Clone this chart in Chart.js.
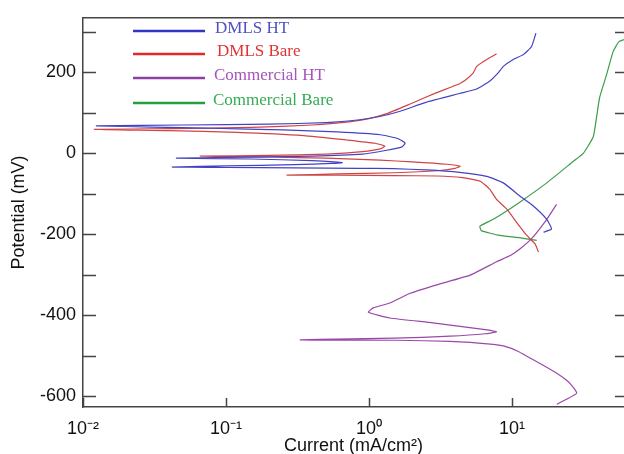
<!DOCTYPE html>
<html>
<head>
<meta charset="utf-8">
<script src="https://cdn.jsdelivr.net/npm/chart.js"></script>
<style>
  html, body { margin: 0; padding: 0; background: #fff; overflow: hidden; }
  canvas { display: block; }
</style>
</head>
<body>
<canvas id="chart" width="624" height="454"></canvas>
<script>
// polarisation curves, current in mA/cm², potential in mV (scan order)
const seriesNames = ['DMLS HT', 'DMLS Bare', 'Commercial HT', 'Commercial Bare'];

const dmlsHtI = [16.6, 18.9, 17.5, 14.1, 11.4, 8.7, 6.65, 4.3, 2.53, 1.48, 0.86, 0.3, 0.1, 0.042,
  0.1, 0.3, 0.55, 0.65, 0.4, 0.15, 0.045, 0.1, 0.4, 0.9, 1.3, 1.7, 1.79,
  1.6, 1.2, 0.6, 0.25, 0.08, 0.03, 0.0124, 0.05, 0.2, 0.5, 0.86, 1.19, 1.65, 2.5, 4.3, 5.65,
  7.0, 8.0, 8.7, 10.2, 12.0, 13.7, 14.7];
const dmlsHtE = [-195, -187, -163, -130, -106, -73, -57, -47, -41, -38, -37, -36, -35, -34,
  -31, -28, -25, -23, -18, -14, -12, -10, -7, -2, 7, 16, 25,
  36, 46, 53, 58, 62, 65, 68, 70, 72, 76, 83, 91, 104, 126, 148, 159,
  179, 199, 215, 232, 244, 264, 297];

const dmlsBareI = [15.3, 14.5, 12.7, 10.8, 9.2, 7.8, 7.0, 6.0, 4.5, 3.0, 1.5, 0.6, 0.265,
  0.6, 1.5, 3.0, 4.0, 4.33, 3.5, 2.0, 1.2, 0.5, 0.2, 0.066, 0.2, 0.5, 0.9, 1.2, 1.29,
  1.1, 0.7, 0.35, 0.12, 0.04, 0.012, 0.04, 0.15, 0.4, 0.7, 1.0, 1.33, 1.94, 2.97, 4.3,
  4.8, 5.36, 5.66, 6.65, 7.8];
const dmlsBareE = [-244, -224, -203, -171, -138, -114, -89, -69, -60, -56, -55, -54, -54,
  -51, -48, -43, -37, -32, -27, -21, -17, -12, -9, -7, -5, -2, 4, 11, 18,
  25, 33, 44, 52, 56, 59, 61, 64, 70, 77, 86, 98, 122, 150, 172,
  183, 199, 215, 232, 246];

const commHtI = [20.6, 28.3, 25.5, 21.7, 16.5, 10.8, 8.7, 7.4, 3.7, 1.56, 0.53, 0.33,
  0.6, 1.5, 3.7, 6.5, 7.8, 6.3, 2.8, 1.4, 0.99, 1.07, 1.4, 1.94, 2.97, 5.1, 7.8, 9.8,
  11.4, 13.7, 17.5, 20.5];
const commHtE = [-620, -593, -569, -549, -524, -488, -476, -472, -465, -462, -462, -461,
  -459, -457, -452, -446, -441, -435, -419, -407, -393, -382, -370, -346, -325, -301, -268, -252,
  -236, -211, -163, -126];

const commBareI = [14.9, 12.0, 8.2, 6.1, 5.97, 7.4, 11.4, 17.5, 26.8, 31.5, 37, 39, 41, 45.9,
  51, 56, 62, 66];
const commBareE = [-215, -210, -203, -191, -180, -163, -120, -73, -20, 0, 41, 89, 138, 195,
  252, 276, 282, 285];

const xTicks = [0.01, 0.1, 1, 10];
const xTickLabels = ['10⁻²', '10⁻¹', '10⁰', '10¹'];
const yTicks = [-600, -500, -400, -300, -200, -100, 0, 100, 200, 300];

const lineColors = ['#4343c2', '#cf4545', '#9a48a8', '#3c9c4c'];
const legendLineColors = ['#3434c4', '#e02a2a', '#9040a4', '#22a040'];
const legendTextColors = ['#5050c4', '#e03434', '#a652bc', '#34ac54'];

function pairs(xs, ys) {
  return xs.map((x, i) => ({ x: x, y: ys[i] }));
}

Chart.defaults.font.family = "'Liberation Sans', Arial, sans-serif";
Chart.defaults.font.size = 18;
Chart.defaults.color = '#111';

// box round the plot with inward ticks
const framePlugin = {
  id: 'frame',
  afterDraw(chart) {
    const ctx = chart.ctx;
    const a = chart.chartArea;
    const xs = chart.scales.x, ys = chart.scales.y;
    ctx.save();
    ctx.strokeStyle = '#444';
    ctx.lineWidth = 1.5;
    ctx.beginPath();
    ctx.moveTo(a.left, a.top);
    ctx.lineTo(a.right, a.top);
    yTicks.forEach(v => {
      const py = Math.round(ys.getPixelForValue(v)) + 0.5;
      ctx.moveTo(a.left, py);
      ctx.lineTo(a.left + 13, py);
      ctx.moveTo(a.right - 9, py);
      ctx.lineTo(a.right, py);
    });
    xTicks.forEach(v => {
      const px = Math.round(xs.getPixelForValue(v)) + 0.5;
      ctx.moveTo(px, a.bottom);
      ctx.lineTo(px, a.bottom - 9);
    });
    ctx.stroke();
    ctx.restore();
  }
};

// legend drawn inside the plot, top left
const legendPlugin = {
  id: 'insideLegend',
  afterDraw(chart) {
    const ctx = chart.ctx;
    const rows = [31, 54, 78, 103];
    const textX = [215, 217, 214, 213];
    ctx.save();
    ctx.font = "17px 'Liberation Serif', 'Times New Roman', serif";
    ctx.textBaseline = 'middle';
    chart.data.datasets.forEach((ds, i) => {
      ctx.strokeStyle = legendLineColors[i];
      ctx.lineWidth = 2.4;
      ctx.beginPath();
      ctx.moveTo(133, rows[i]);
      ctx.lineTo(205, rows[i]);
      ctx.stroke();
      ctx.fillStyle = legendTextColors[i];
      ctx.fillText(ds.label, textX[i], rows[i] - 2);
    });
    ctx.restore();
  }
};

const series = [
  pairs(dmlsHtI, dmlsHtE),
  pairs(dmlsBareI, dmlsBareE),
  pairs(commHtI, commHtE),
  pairs(commBareI, commBareE)
];

const ctx = document.getElementById('chart');

new Chart(ctx, {
  type: 'scatter',
  data: {
    datasets: series.map((d, i) => ({
      label: seriesNames[i],
      data: d,
      showLine: true,
      borderColor: lineColors[i],
      backgroundColor: lineColors[i],
      borderWidth: 1.2,
      pointRadius: 0,
      tension: 0.15
    }))
  },
  options: {
    responsive: false,
    animation: false,
    devicePixelRatio: 1,
    layout: {
      padding: { top: 13, left: 0, right: 0, bottom: 0 }
    },
    scales: {
      x: {
        type: 'logarithmic',
        min: 0.01,
        max: 60.7,
        afterBuildTicks: s => { s.ticks = xTicks.map(v => ({ value: v })); },
        afterFit: s => { s.height = 47; },
        grid: { display: false, drawTicks: false },
        border: { display: true, color: '#444', width: 1.5 },
        ticks: {
          padding: 11,
          maxRotation: 0,
          autoSkip: false,
          color: '#111',
          callback: (v, i) => xTickLabels[i]
        },
        title: {
          display: true,
          text: 'Current (mA/cm²)',
          color: '#111',
          padding: { top: 0, bottom: -3 }
        }
      },
      y: {
        min: -627,
        max: 335,
        afterBuildTicks: s => { s.ticks = yTicks.map(v => ({ value: v })); },
        afterFit: s => { s.width = 83; },
        grid: { display: false, drawTicks: false },
        border: { display: true, color: '#444', width: 1.5 },
        ticks: {
          padding: 7,
          autoSkip: false,
          color: '#111',
          callback: v => (v % 200 === 0 ? String(v) : '')
        },
        title: {
          display: true,
          text: 'Potential (mV)',
          color: '#111',
          padding: { top: 8, bottom: 0 }
        }
      }
    },
    plugins: {
      legend: { display: false },
      tooltip: { enabled: false }
    }
  },
  plugins: [framePlugin, legendPlugin]
});
</script>
</body>
</html>
